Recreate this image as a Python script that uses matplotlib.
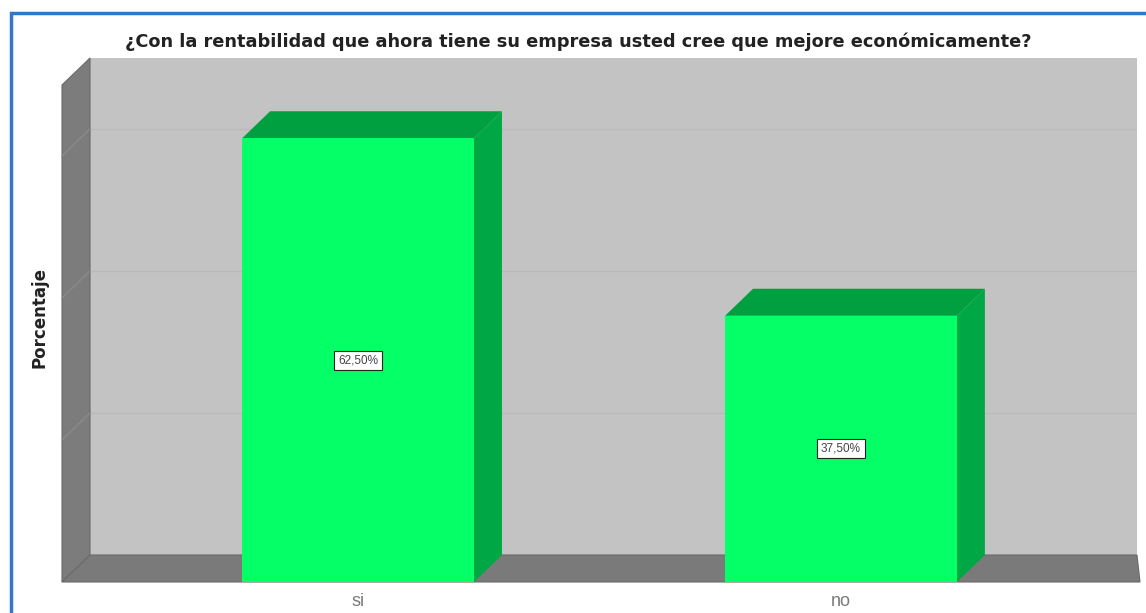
import matplotlib
matplotlib.use("Agg")
import matplotlib.pyplot as plt
from matplotlib.patches import Polygon, Rectangle
from matplotlib.transforms import offset_copy
import numpy as np

# Survey answers
categories = ["si", "no"]
percentages = [62.50, 37.50]
value_labels = ["62,50%", "37,50%"]
y_max = 70
grid_values = [20, 40, 60]

title = "¿Con la rentabilidad que ahora tiene su empresa usted cree que mejore económicamente?"
y_title = "Porcentaje"

W, H, DPI = 1146, 613, 100
fig = plt.figure(figsize=(W / DPI, H / DPI), dpi=DPI)
fig.patch.set_facecolor("white")

# frame around the whole chart
fig.patches.append(Rectangle((11 / W, -0.02), 1.1, (H - 13) / H + 0.02,
                             transform=fig.transFigure, fill=False,
                             edgecolor="#3278c4", linewidth=2.5))

# back wall of the 3D box
left, right, top, bottom = 90, 1137, 58, 555
ax = fig.add_axes([left / W, 1 - bottom / H, (right - left) / W, (bottom - top) / H])
ax.set_facecolor("#c3c3c3")
for s in ax.spines.values():
    s.set_visible(False)
ax.set_xticks([])
ax.set_yticks([])
ax.set_ylim(0, y_max)
xs = np.arange(len(categories))
bar_w = 0.48
ax.set_xlim(-0.613, 1.555)

for g in grid_values:
    ax.axhline(g, color="#b9b9b9", linewidth=1.0, zorder=1)

# depth of the box: front plane is shifted down-left of the back wall
DX, DY = 28, 27
front = offset_copy(ax.transData, fig=fig, x=-DX, y=-DY, units="dots")
back = ax.transData

def disp(tr, x, y):
    return tr.transform((x, y))

x0, x1 = ax.get_xlim()

# left wall
lw = [disp(front, x0, 0), disp(front, x0, y_max), disp(back, x0, y_max), disp(back, x0, 0)]
fig.patches.append(Polygon(lw, closed=True, transform=None, facecolor="#7c7c7c",
                           edgecolor="#6a6a6a", linewidth=0.8))
for g in grid_values:
    p, q = disp(front, x0, g), disp(back, x0, g)
    fig.lines.append(plt.Line2D([p[0], q[0]], [p[1], q[1]], transform=None,
                                color="#8a8a8a", linewidth=1.0))

# floor
fl = disp(front, x0, 0)
bl = disp(back, x0, 0)
br = disp(back, x1, 0)
floor = [fl, bl, br, (br[0] + 3, fl[1])]
fig.patches.append(Polygon(floor, closed=True, transform=None, facecolor="#7a7a7a",
                           edgecolor="#6a6a6a", linewidth=0.8))

# bars
front_col, top_col, side_col = "#05ff66", "#00a040", "#00a845"
for x, v, lab in zip(xs, percentages, value_labels):
    a, b = x - bar_w / 2, x + bar_w / 2
    side = [disp(front, b, 0), disp(front, b, v), disp(back, b, v), disp(back, b, 0)]
    topf = [disp(front, a, v), disp(front, b, v), disp(back, b, v), disp(back, a, v)]
    face = [disp(front, a, 0), disp(front, b, 0), disp(front, b, v), disp(front, a, v)]
    fig.patches.append(Polygon(side, closed=True, transform=None, facecolor=side_col, edgecolor="none"))
    fig.patches.append(Polygon(topf, closed=True, transform=None, facecolor=top_col, edgecolor="none"))
    fig.patches.append(Polygon(face, closed=True, transform=None, facecolor=front_col, edgecolor="none"))
    cx, cy = disp(front, x, v / 2)
    fig.text(cx / W, cy / H, lab, ha="center", va="center", fontsize=8.5,
             family="Liberation Sans", color="#444444",
             bbox=dict(boxstyle="square,pad=0.3", facecolor="white",
                       edgecolor="#222222", linewidth=0.8))
    tx, ty = disp(front, x, 0)
    fig.text(tx / W, (ty - 20) / H, categories[x], ha="center", va="center",
             fontsize=13, family="Liberation Sans", color="#7a7a7a")

fig.text(578 / W, 1 - 42 / H, title, ha="center", va="center", fontsize=12.8,
         fontweight="bold", family="DejaVu Sans", color="#222222")
fig.text(40 / W, 1 - 318 / H, y_title, ha="center", va="center", rotation=90,
         fontsize=12, fontweight="bold", family="DejaVu Sans", color="#222222")

fig.savefig("out.png", dpi=DPI, facecolor="white")
